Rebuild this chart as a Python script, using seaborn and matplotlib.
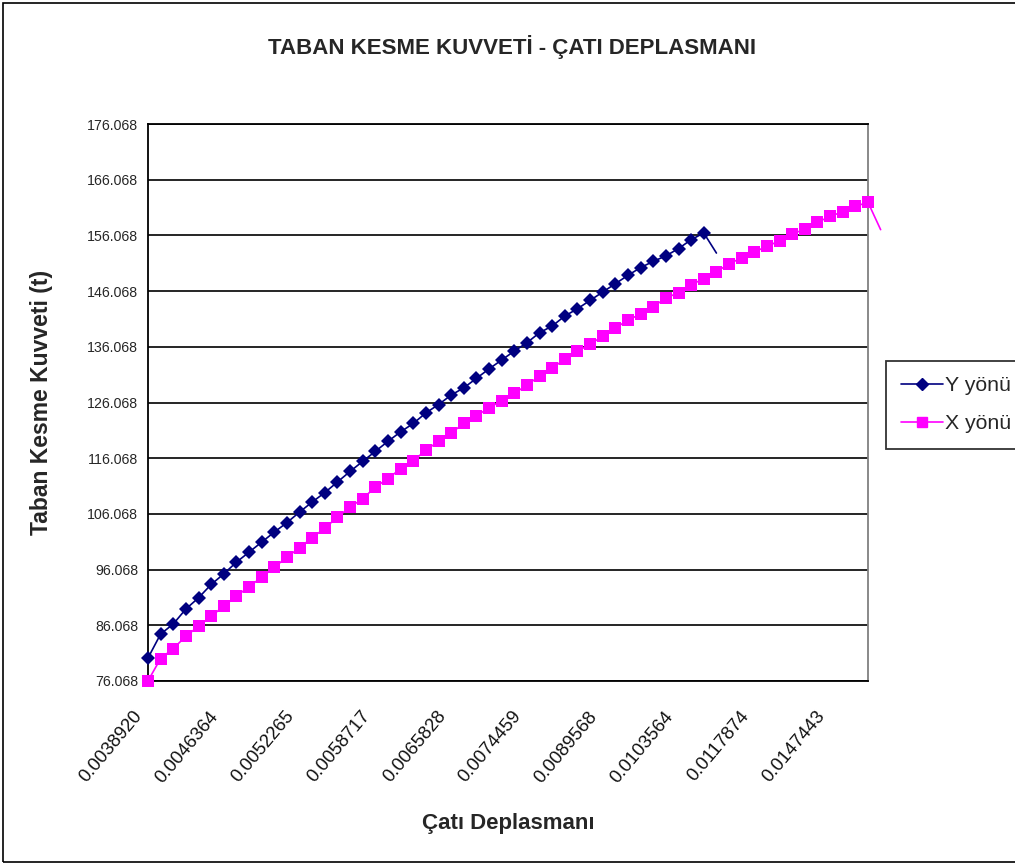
import matplotlib
matplotlib.use("Agg")
import matplotlib.pyplot as plt
from matplotlib.lines import Line2D
from matplotlib.patches import Rectangle
from matplotlib.transforms import ScaledTranslation
import numpy as np
import pandas as pd
import seaborn as sns

# Base shear (t) for each analysis step, Y direction
y_yonu = [80.2, 84.5, 86.3, 89.0, 91.0, 93.4, 95.3, 97.4, 99.2, 101.0,
          102.8, 104.5, 106.4, 108.2, 109.9, 111.8, 113.7, 115.5, 117.3, 119.1,
          120.8, 122.3, 124.2, 125.7, 127.4, 128.7, 130.4, 132.1, 133.7, 135.3,
          136.8, 138.6, 139.8, 141.6, 142.9, 144.4, 145.9, 147.4, 148.9, 150.3,
          151.4, 152.4, 153.7, 155.3, 156.5, 152.9]

# Base shear (t) for each analysis step, X direction
x_yonu = [76.1, 80.1, 81.9, 84.1, 85.9, 87.7, 89.5, 91.3, 93.0, 94.7,
          96.5, 98.3, 100.0, 101.8, 103.5, 105.5, 107.3, 108.8, 110.9, 112.4,
          114.2, 115.6, 117.5, 119.1, 120.6, 122.3, 123.7, 125.1, 126.4, 127.7,
          129.2, 130.8, 132.3, 133.8, 135.3, 136.5, 138.0, 139.5, 140.8, 142.0,
          143.3, 144.8, 145.8, 147.2, 148.3, 149.5, 151.0, 152.0, 153.1, 154.1,
          155.1, 156.3, 157.2, 158.4, 159.5, 160.3, 161.3, 162.0, 157.1]

# Roof displacement labels shown on the category axis (every 6th step)
x_labels = ["0.0038920", "0.0046364", "0.0052265", "0.0058717", "0.0065828",
            "0.0074459", "0.0089568", "0.0103564", "0.0117874", "0.0147443"]
label_step = 6
n_categories = 58

y_ticks = [76.068, 86.068, 96.068, 106.068, 116.068, 126.068,
           136.068, 146.068, 156.068, 166.068, 176.068]

title = "TABAN KESME KUVVETİ - ÇATI DEPLASMANI"
x_title = "Çatı Deplasmanı"
y_title = "Taban Kesme Kuvveti (t)"
series_names = ["Y yönü", "X yönü"]

sns.set_theme(style="white")
narrow = ["Liberation Sans Narrow", "Liberation Sans", "DejaVu Sans"]
regular = ["Liberation Sans", "DejaVu Sans"]
plt.rcParams["font.family"] = regular

NAVY = "#000080"
MAGENTA = "#FF00FF"

fig = plt.figure(figsize=(10.15, 8.65), dpi=100)
fig.patch.set_facecolor("white")
ax = fig.add_axes([148 / 1015, 184 / 865, 720 / 1015, 557 / 865])

df_y = pd.DataFrame({"adim": np.arange(len(y_yonu)), "kuvvet": y_yonu})
df_x = pd.DataFrame({"adim": np.arange(len(x_yonu)), "kuvvet": x_yonu})

# The final step of each series is drawn as a line segment only
sns.lineplot(data=df_x, x="adim", y="kuvvet", ax=ax, color=MAGENTA,
             linewidth=1.2, marker="s", markersize=8.3, markeredgewidth=0,
             markevery=slice(0, len(x_yonu) - 1), clip_on=False, zorder=3)
sns.lineplot(data=df_y, x="adim", y="kuvvet", ax=ax, color=NAVY,
             linewidth=1.2, marker="D", markersize=7.5, markeredgewidth=0,
             markevery=slice(0, len(y_yonu) - 1), clip_on=False, zorder=4)

ax.set_xlim(0, n_categories - 1)
ax.set_ylim(y_ticks[0], y_ticks[-1])

ax.set_yticks(y_ticks)
ax.set_yticklabels([f"{v:.3f}" for v in y_ticks], fontfamily=narrow, fontsize=10.2)
ax.yaxis.grid(True, color="black", linewidth=1.2)
ax.xaxis.grid(False)
ax.set_axisbelow(True)

# Category ticks at every step; displacement labels every 6th step, slanted
ax.set_xticks(np.arange(n_categories))
ax.set_xticklabels([""] * n_categories)
label_shift = ScaledTranslation(-15 / 100, -27 / 100, fig.dpi_scale_trans)
for i, lab in enumerate(x_labels):
    ax.text(i * label_step, 0, lab, transform=ax.get_xaxis_transform() + label_shift,
            rotation=50, ha="right", va="top", rotation_mode="anchor",
            fontsize=13.3, color="#111111")

ax.tick_params(axis="y", direction="out", length=4, width=1.2, color="black", pad=3)
ax.tick_params(axis="x", direction="out", length=4.5, width=1.0, color="black", pad=2)

for side in ["left", "bottom", "top"]:
    ax.spines[side].set_color("black")
    ax.spines[side].set_linewidth(1.3)
ax.spines["right"].set_color("#808080")
ax.spines["right"].set_linewidth(1.3)

ax.set_xlabel(x_title, fontsize=16, fontweight="bold")
ax.xaxis.set_label_coords(0.5, (681 - 823) / 557)
ax.xaxis.label.set_va("center")
ax.set_ylabel(y_title, fontsize=16.5, fontweight="bold")
ax.yaxis.set_label_coords((42 - 148) / 720, 0.5)
ax.yaxis.label.set_va("center")

fig.text(512 / 1015, 1 - 47 / 865, title, ha="center", va="center",
         fontsize=16, fontweight="bold", fontfamily=narrow)

handles = [Line2D([], [], color=NAVY, linewidth=1.2, marker="D", markersize=6.5),
           Line2D([], [], color=MAGENTA, linewidth=1.2, marker="s", markersize=7)]
leg = fig.legend(handles, series_names, loc="upper left",
                 bbox_to_anchor=(886 / 1015, 1 - 361 / 865),
                 prop={"family": narrow, "size": 15.3}, frameon=True,
                 fancybox=False, handlelength=1.95, handletextpad=0.12,
                 borderpad=0.72, labelspacing=0.9, borderaxespad=0)
leg.get_frame().set_edgecolor("black")
leg.get_frame().set_linewidth(1.3)

# Chart-area border
fig.patches.append(Rectangle((3 / 1015, 3 / 865), 1.2, 1 - 6 / 865,
                             transform=fig.transFigure, fill=False,
                             edgecolor="black", linewidth=1.2))

fig.savefig("out.png", dpi=100, facecolor="white")
